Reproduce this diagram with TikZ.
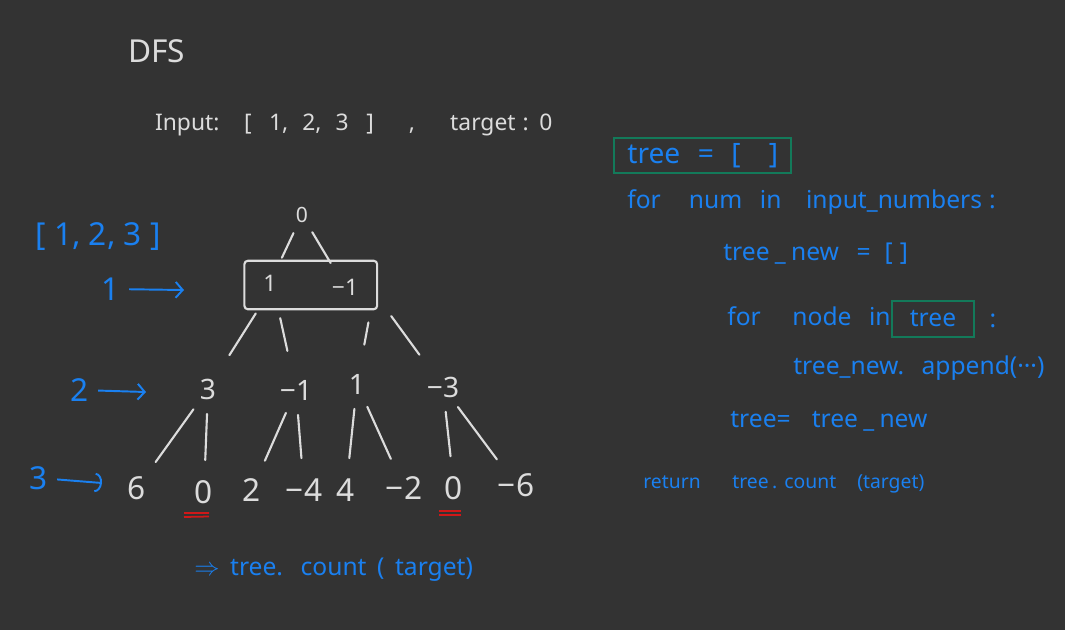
\documentclass[tikz,border=0pt]{standalone}
\usepackage{fontspec}
\setmainfont{Noto Sans}
\usetikzlibrary{arrows.meta,calc,fit}

\definecolor{bgdark}{HTML}{333333}
\definecolor{chalk}{HTML}{DCDCDC}
\definecolor{penblue}{HTML}{1A80F0}
\definecolor{boxgreen}{HTML}{137A5A}
\definecolor{penred}{HTML}{D01818}

\tikzset{
  chalktext/.style={text=chalk, inner sep=1pt},
  codetext/.style={text=penblue, font=\fontsize{14}{16}\selectfont, inner sep=0pt},
  levellabel/.style={text=penblue, font=\fontsize{18}{20}\selectfont, inner sep=1pt},
  levelarrow/.style={penblue, line width=1.1pt, shorten <=4pt, -{Straight Barb[length=4pt, width=9pt]}},
  branch/.style={chalk, line width=1.2pt, line cap=round},
  greenbox/.style={draw=boxgreen, line width=1.2pt},
  redmark/.style={penred, line width=1pt},
}

\begin{document}
\begin{tikzpicture}[x=0.02cm, y=-0.02cm]
% Background
\fill[bgdark] (0,0) rectangle (1065,630);

% Title and problem
\node[chalktext, anchor=base west, font=\fontsize{18}{20}\selectfont] (title) at (126,62) {DFS};
\node[chalktext, anchor=base west, font=\fontsize{13}{15}\selectfont] (problem) at (153,130)
  {Input:\hspace{14pt}[\hspace{10pt}1,\hspace{8pt}2,\hspace{8pt}3\hspace{10pt}]\hspace{20pt},\hspace{20pt}target\hspace{4pt}:\hspace{6pt}0};

% Tree: root and level 1
\node[chalktext, font=\fontsize{12}{14}\selectfont] (root) at (302,215) {0};
\node[chalktext, font=\fontsize{13}{15}\selectfont] (a1) at (270,283) {1};
\node[chalktext, font=\fontsize{13}{15}\selectfont] (a2) at (345,287) {−1};
\node[draw=chalk, line width=1.2pt, rounded corners=2pt, inner xsep=0.34cm, inner ysep=0.24cm, fit=(a1)(a2)] (a12box) {};

% Level 2
\foreach \n/\x/\y/\t in {b1/208/389/3, b2/296/390/−1, b3/357/384/1, b4/443/387/−3}
  \node[chalktext, font=\fontsize{16}{18}\selectfont] (\n) at (\x,\y) {\t};

% Level 3
\foreach \n/\x/\y/\t in {c1/137/488/6, c2/204/492/0, c3/252/490/2, c4/304/490/−4,
                         c5/346/490/4, c6/404/488/−2, c7/454/488/0, c8/516/485/−6}
  \node[chalktext, font=\fontsize{18}{20}\selectfont] (\n) at (\x,\y) {\t};

% Branches
\foreach \p/\c in {root/a1, root/a2}
  \draw[branch, shorten <=0.4cm, shorten >=0.56cm] (\p.center) -- (\c.center);
\foreach \p/\c/\s in {a1/b1/0.1, a1/b2/0.05, a2/b3/0.6, a2/b4/0.5}
  \draw[branch, shorten <=0.72cm, shorten >=0.8cm] ([xshift=\s cm]\p.center) -- (\c.center);
\foreach \p/\c in {b1/c1, b1/c2, b2/c3, b2/c4, b3/c5, b3/c6, b4/c7, b4/c8}
  \draw[branch, shorten <=0.5cm, shorten >=0.64cm] (\p.center) -- (\c.center);

% Hits
\draw[redmark] ($(c2)+(-20,21)$) -- ++(25,0) ($(c2)+(-20,25)$) -- ++(25,-0.5);
\draw[redmark] ($(c7)+(-15,23)$) -- ++(22,0) ($(c7)+(-15,27)$) -- ++(22,0);

% Level labels
\node[levellabel] (nums) at (98,237) {[ 1, 2, 3 ]};
\node[levellabel] (m1) at (111,289) {1};
\node[levellabel] (m2) at (80,390) {2};
\node[levellabel] (m3) at (39,478) {3};
\coordinate (m1end) at (184,290);
\coordinate (m2end) at (146,392);
\coordinate (m3end) at (102,483);
\draw[levelarrow] (m1) -- (m1end);
\draw[levelarrow] (m2) -- (m2end);
\draw[levelarrow, -{Arc Barb[length=4pt, width=11pt]}] (m3) -- (m3end);

\node[codetext, anchor=base west] (answer) at (194,575)
  {$\Rightarrow$\hspace{6pt}tree.\hspace{10pt}count\hspace{6pt}(\hspace{6pt}target)};

% Code
\node[codetext, anchor=base west, font=\fontsize{16}{18}\selectfont] (line1) at (627,163)
  {tree\hspace{10pt}=\hspace{10pt}[\hspace{16pt}]};
\node[greenbox, inner xsep=0.26cm, inner ysep=0.1cm, fit=(line1)] (line1box) {};
\node[codetext, anchor=base west] (line2) at (627,208)
  {for\hspace{16pt}num\hspace{10pt}in\hspace{14pt}input\_numbers\hspace{4pt}:};
\node[codetext, anchor=base west] (line3) at (723,260)
  {tree\hspace{3pt}\_\hspace{3pt}new\hspace{10pt}=\hspace{8pt}[\hspace{4pt}]};
\node[codetext, anchor=base west] (line4) at (727,325)
  {for\hspace{18pt}node\hspace{10pt}in};
\node[codetext, greenbox, minimum width=1.64cm, minimum height=0.72cm] (treebox) at (933,319) {tree};
\node[codetext] (colon) at (993,321) {:};
\node[codetext, anchor=base west] (line5) at (793,374)
  {tree\_new.\hspace{10pt}append(···)};
\node[codetext, anchor=base west] (line6) at (730,427)
  {tree=\hspace{12pt}tree\hspace{3pt}\_\hspace{3pt}new};
\node[codetext, anchor=base west, font=\fontsize{11}{13}\selectfont] (line7) at (643,488)
  {return\hspace{18pt}tree\hspace{2pt}.\hspace{4pt}count\hspace{12pt}(target)};
\end{tikzpicture}
\end{document}
